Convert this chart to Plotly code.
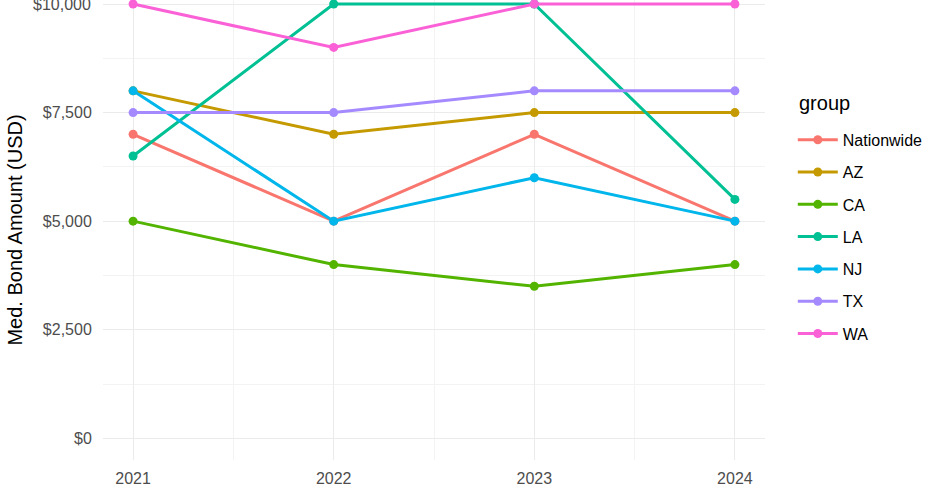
import plotly.graph_objects as go

# 연도별 중앙 보석금
years = [2021, 2022, 2023, 2024]
groups = ["Nationwide", "AZ", "CA", "LA", "NJ", "TX", "WA"]
nationwide = [7000, 5000, 7000, 5000]
az = [8000, 7000, 7500, 7500]
ca = [5000, 4000, 3500, 4000]
la = [6500, 10000, 10000, 5500]
nj = [8000, 5000, 6000, 5000]
tx = [7500, 7500, 8000, 8000]
wa = [10000, 9000, 10000, 10000]

y_ticks = [0, 2500, 5000, 7500, 10000]
y_labels = ["$0", "$2,500", "$5,000", "$7,500", "$10,000"]

# ggplot 기본 hue 색
colors = ["#F8766D", "#C49A00", "#53B400", "#00C094", "#00B6EB", "#A58AFF", "#FB61D7"]
values = [nationwide, az, ca, la, nj, tx, wa]

fig = go.Figure()
for name, vals, col in zip(groups, values, colors):
    fig.add_trace(go.Scatter(
        x=years, y=vals, name=name, mode="lines+markers",
        line=dict(color=col, width=3),
        marker=dict(color=col, size=9),
        legendgroup=name, cliponaxis=False,
    ))

grid = "#EBEBEB"
fig.update_layout(
    width=940, height=489,
    margin=dict(l=103, r=175, t=0, b=29),
    plot_bgcolor="white", paper_bgcolor="white",
    font=dict(family="Liberation Sans, Arial, sans-serif", color="#4D4D4D"),
    showlegend=True,
    legend=dict(
        font=dict(size=16, color="black"),
        x=1.042, xanchor="left", y=0.733, yanchor="top",
        tracegroupgap=8.5, itemwidth=40,
    ),
)
# 범례 제목 (간격 맞추려고 따로 annotation으로)
fig.add_annotation(
    text="group", xref="paper", yref="paper", x=1.048, y=1 - 103 / 460,
    xanchor="left", yanchor="middle", showarrow=False,
    font=dict(size=20, color="black"),
)
# 맨 위 $10,000 라벨은 plotly가 숨겨서 직접 붙임
fig.add_annotation(
    text=y_labels[-1], xref="paper", yref="y", x=0, y=y_ticks[-1],
    xanchor="right", yanchor="middle", xshift=-10, showarrow=False,
    font=dict(size=16, color="#4D4D4D"),
)
fig.update_xaxes(
    range=[2020.85, 2024.15],
    tickvals=years, ticktext=[str(y) for y in years],
    showgrid=True, gridcolor=grid, gridwidth=1.2,
    minor=dict(dtick=0.5, tick0=2021, showgrid=True, gridcolor="#F3F3F3", gridwidth=0.8),
    zeroline=False, showline=False,
    ticks="outside", ticklen=4, tickcolor="rgba(0,0,0,0)",
    tickfont=dict(size=16, color="#4D4D4D"),
)
fig.update_yaxes(
    range=[-500, 10092],
    tickvals=y_ticks, ticktext=y_labels,
    showgrid=True, gridcolor=grid, gridwidth=1.2,
    minor=dict(dtick=1250, tick0=0, showgrid=True, gridcolor="#F3F3F3", gridwidth=0.8),
    zeroline=False, showline=False,
    ticks="outside", ticklen=7, tickcolor="rgba(0,0,0,0)",
    tickfont=dict(size=16, color="#4D4D4D"),
    title=dict(text="Med. Bond Amount (USD)", font=dict(size=20, color="black"), standoff=14),
)

# 브라우저 기본 body 여백 제거
fig.write_html("out.html", config={"displayModeBar": False},
               post_script="document.body.style.margin='0';")
